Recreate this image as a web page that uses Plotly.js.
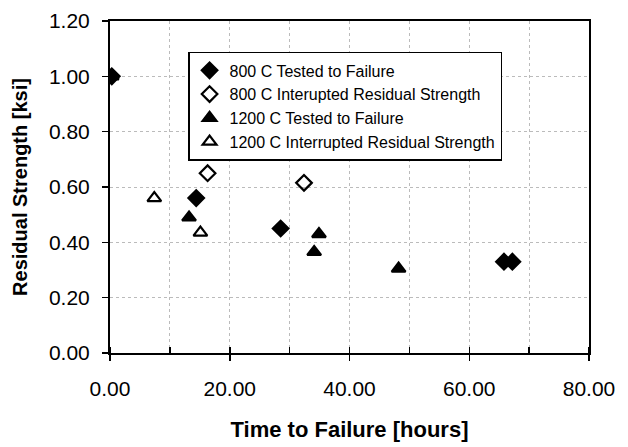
<!DOCTYPE html>
<html><head><meta charset="utf-8">
<script src="https://cdn.plot.ly/plotly-3.0.1.min.js"></script>
<style>body{margin:0;background:#fff}#c{width:628px;height:447px}</style>
</head><body><div id="c"></div>
<script>
const seriesNames = ["800 C Tested to Failure","800 C Interupted Residual Strength","1200 C Tested to Failure","1200 C Interrupted Residual Strength"];
const x800Fail = [0.3, 14.4, 28.5, 65.8, 67.2];
const y800Fail = [1.00, 0.56, 0.45, 0.33, 0.33];
const x800Int = [16.3, 32.4];
const y800Int = [0.65, 0.615];
const x1200Fail = [0.3, 13.2, 34.9, 34.1, 48.2];
const y1200Fail = [1.00, 0.49, 0.43, 0.365, 0.305];
const x1200Int = [7.4, 15.1];
const y1200Int = [0.56, 0.435];
const xTicks = [0, 20, 40, 60, 80];
const yTicks = [0, 0.2, 0.4, 0.6, 0.8, 1.0, 1.2];

const mk = (sym) => ({symbol: sym, size: 12, color: '#000', line: {color: '#000', width: 2.2}});
const traces = [
  {x: x800Fail, y: y800Fail, name: seriesNames[0], mode: 'markers', type: 'scatter', marker: mk('diamond')},
  {x: x800Int, y: y800Int, name: seriesNames[1], mode: 'markers', type: 'scatter', marker: mk('diamond-open')},
  {x: x1200Fail, y: y1200Fail, name: seriesNames[2], mode: 'markers', type: 'scatter', marker: mk('triangle-up')},
  {x: x1200Int, y: y1200Int, name: seriesNames[3], mode: 'markers', type: 'scatter', marker: mk('triangle-up-open')}
];
const font = {family: 'Liberation Sans, Arial, sans-serif', color: '#000'};
const layout = {
  width: 628, height: 447,
  margin: {l: 110, r: 39, t: 21, b: 94},
  paper_bgcolor: '#fff', plot_bgcolor: '#fff',
  font: font,
  showlegend: true,
  legend: {x: 0.163, y: 0.907, xanchor: 'left', yanchor: 'top',
    bordercolor: '#000', borderwidth: 1.5, bgcolor: '#fff',
    font: {family: font.family, size: 16, color: '#000'}, tracegroupgap: 0, itemwidth: 30},
  xaxis: {range: [0, 80], tickvals: xTicks, tickformat: '.2f', automargin: false,
    showline: true, linecolor: '#000', linewidth: 2, mirror: true,
    ticks: 'outside', ticklen: 6, tickcolor: '#000', tickwidth: 1.5,
    ticklabelstandoff: 10,
    minor: {dtick: 10, ticks: 'inside', ticklen: 6, tickcolor: '#000', showgrid: true, gridcolor: '#bbb', griddash: 'dot', gridwidth: 1},
    showgrid: true, gridcolor: '#bbb', griddash: 'dot', zeroline: false,
    tickfont: {family: font.family, size: 21, color: '#000'},
    title: {text: '<b>Time to Failure [hours]</b>', font: {family: font.family, size: 22, color: '#000'}, standoff: 22}},
  yaxis: {range: [0, 1.2], tickvals: yTicks, tickformat: '.2f', automargin: false,
    showline: true, linecolor: '#000', linewidth: 2, mirror: true,
    ticks: 'outside', ticklen: 6, tickcolor: '#000', tickwidth: 1.5,
    ticklabelstandoff: 8,
    showgrid: true, gridcolor: '#bbb', griddash: 'dot', zeroline: false,
    tickfont: {family: font.family, size: 21, color: '#000'},
    title: {text: '<b>Residual Strength [ksi]</b>', font: {family: font.family, size: 20, color: '#000'}, standoff: 16}}
};
Plotly.newPlot('c', traces, layout, {displayModeBar: false, staticPlot: true});
</script></body></html>
